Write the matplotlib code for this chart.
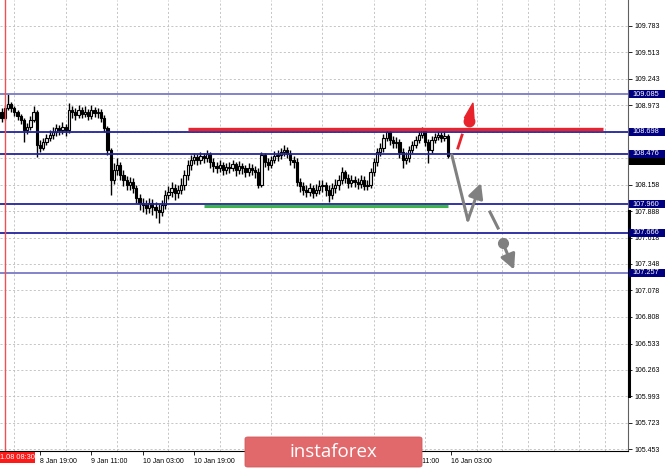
import matplotlib
matplotlib.use('Agg')
import matplotlib.pyplot as plt
import matplotlib.transforms as mtransforms
from matplotlib.patches import Rectangle, FancyBboxPatch, Polygon
import numpy as np

plt.rcParams['font.family'] = ['Liberation Sans', 'DejaVu Sans']

# H1 candles (8 Jan 08:00 -> 16 Jan 02:00)
first_open = 108.903
closes = [108.841, 108.944, 108.985, 108.944, 108.903, 108.862, 108.821, 108.718, 108.749, 108.821,
          108.903, 108.565, 108.534, 108.596, 108.637, 108.667, 108.698, 108.739, 108.718, 108.749,
          108.718, 108.923, 108.903, 108.872, 108.923, 108.882, 108.903, 108.862, 108.923, 108.892,
          108.903, 108.841, 108.739, 108.514, 108.207, 108.309, 108.360, 108.258, 108.207, 108.156,
          108.186, 108.125, 108.022, 107.971, 107.951, 107.920, 107.971, 107.930, 107.900, 107.879,
          107.951, 108.053, 108.084, 108.125, 108.074, 108.104, 108.156, 108.258, 108.360, 108.411,
          108.442, 108.411, 108.452, 108.432, 108.473, 108.391, 108.350, 108.330, 108.360, 108.309,
          108.340, 108.330, 108.370, 108.309, 108.350, 108.330, 108.289, 108.330, 108.309, 108.289,
          108.156, 108.463, 108.391, 108.360, 108.411, 108.452, 108.463, 108.493, 108.514, 108.473,
          108.411, 108.391, 108.186, 108.145, 108.104, 108.084, 108.125, 108.074, 108.104, 108.145,
          108.156, 108.104, 108.053, 108.125, 108.156, 108.207, 108.289, 108.227, 108.176, 108.207,
          108.186, 108.166, 108.207, 108.145, 108.156, 108.289, 108.391, 108.493, 108.534, 108.637,
          108.698, 108.616, 108.585, 108.596, 108.493, 108.411, 108.432, 108.514, 108.565, 108.616,
          108.667, 108.718, 108.596, 108.514, 108.616, 108.647, 108.667, 108.637, 108.657, 108.452]
highs = [108.944, 108.974, 109.087, 109.005, 108.964, 108.923, 108.882, 108.841, 108.790, 108.862,
         108.964, 108.923, 108.616, 108.637, 108.678, 108.718, 108.749, 108.780, 108.769, 108.800,
         108.780, 108.995, 108.964, 108.944, 108.974, 108.954, 108.964, 108.933, 108.974, 108.954,
         108.944, 108.933, 108.872, 108.759, 108.534, 108.381, 108.432, 108.391, 108.309, 108.248,
         108.237, 108.227, 108.156, 108.063, 108.022, 108.002, 108.022, 108.012, 107.982, 107.961,
         108.002, 108.104, 108.145, 108.186, 108.166, 108.156, 108.227, 108.309, 108.411, 108.463,
         108.483, 108.473, 108.493, 108.483, 108.514, 108.493, 108.432, 108.391, 108.411, 108.391,
         108.381, 108.391, 108.411, 108.391, 108.401, 108.381, 108.360, 108.381, 108.370, 108.350,
         108.330, 108.493, 108.483, 108.432, 108.452, 108.504, 108.514, 108.534, 108.565, 108.544,
         108.514, 108.452, 108.432, 108.227, 108.186, 108.156, 108.176, 108.156, 108.166, 108.207,
         108.207, 108.186, 108.156, 108.176, 108.217, 108.258, 108.340, 108.309, 108.268, 108.258,
         108.248, 108.227, 108.258, 108.248, 108.207, 108.330, 108.432, 108.534, 108.585, 108.678,
         108.729, 108.718, 108.657, 108.647, 108.626, 108.534, 108.493, 108.555, 108.606, 108.657,
         108.708, 108.749, 108.739, 108.626, 108.657, 108.688, 108.708, 108.698, 108.708, 108.678]
lows = [108.800, 108.821, 108.923, 108.903, 108.862, 108.821, 108.780, 108.596, 108.678, 108.718,
        108.800, 108.442, 108.493, 108.514, 108.565, 108.606, 108.626, 108.657, 108.667, 108.678,
        108.657, 108.688, 108.841, 108.821, 108.841, 108.841, 108.851, 108.821, 108.831, 108.851,
        108.841, 108.800, 108.698, 108.463, 108.053, 108.166, 108.258, 108.207, 108.145, 108.104,
        108.104, 108.074, 107.971, 107.900, 107.879, 107.859, 107.869, 107.849, 107.818, 107.767,
        107.838, 107.910, 108.012, 108.033, 108.002, 108.022, 108.063, 108.104, 108.207, 108.309,
        108.370, 108.360, 108.370, 108.381, 108.391, 108.330, 108.289, 108.278, 108.289, 108.258,
        108.268, 108.278, 108.299, 108.248, 108.268, 108.268, 108.237, 108.248, 108.258, 108.227,
        108.125, 108.135, 108.340, 108.309, 108.330, 108.381, 108.401, 108.422, 108.452, 108.432,
        108.360, 108.330, 108.145, 108.084, 108.053, 108.033, 108.043, 108.022, 108.043, 108.063,
        108.084, 108.043, 107.982, 108.012, 108.074, 108.104, 108.166, 108.176, 108.125, 108.135,
        108.135, 108.115, 108.125, 108.104, 108.104, 108.125, 108.248, 108.350, 108.452, 108.493,
        108.606, 108.565, 108.534, 108.534, 108.432, 108.330, 108.370, 108.391, 108.483, 108.534,
        108.585, 108.637, 108.555, 108.381, 108.483, 108.585, 108.616, 108.596, 108.606, 108.432]

levels = [109.085, 108.698, 108.476, 107.960, 107.666, 107.257]
level_colors = ['#7a7ac6', '#24249c', '#24249c', '#24249c', '#24249c', '#7a7ac6']

price_ticks = [109.783, 109.513, 109.243, 108.973, 108.703, 108.433, 108.158, 107.888, 107.618,
               107.348, 107.078, 106.808, 106.533, 106.263, 105.993, 105.723, 105.453]
# these two grid labels sit under the level boxes in the reference
hidden_ticks = [108.703, 108.433]
time_tick_bars = [12, 28, 44, 60, 76, 92, 108, 124, 140]
# labels at 76/92/108 are covered by the watermark in the reference
time_labels = ['8 Jan 19:00', '9 Jan 11:00', '10 Jan 03:00', '10 Jan 19:00', '',
               '', '', '15 Jan 11:00', '16 Jan 03:00']

# drawn objects: resistance / support / vertical marker
resist_price, resist_from, resist_to = 108.729, 58.1, 187.4
support_price, support_from, support_to = 107.941, 63.1, 139.0
vline_bar, vline_label = 1.1, '1.08 08:30'

# forecast arrows (bar, price)
down_path_x = [140.3, 145.3, 149.4]
down_path_y = [108.463, 107.797, 108.176]
dash_x = [152.2, 154.7]
dash_y = [107.879, 107.715]
dot_x, dot_y = 156.2, 107.562
dot_arrow_x, dot_arrow_y = 159.7, 107.289
up_tick_x = [142.2, 143.5]
up_tick_y = [108.534, 108.667]
up_head_x = [144.2, 146.9, 147.2]
up_head_y = [108.841, 108.995, 108.841]
up_blob_x, up_blob_y = 145.7, 108.815

W, H = 665, 468
fig = plt.figure(figsize=(W / 100, H / 100), dpi=100)
ax = fig.add_axes([0, 17 / H, 628 / W, 451 / H])
ax.set_xlim(-0.47, 195.2)
ax.set_ylim(105.433, 110.049)

# grid
ax.set_xticks(np.arange(4, 196, 8), minor=True)
ax.set_yticks(price_ticks)
ax.set_yticklabels(['' if p in hidden_ticks else '%.3f' % p for p in price_ticks])
ax.grid(True, which='minor', axis='x', color='#bdbdbd', lw=0.6, ls=(0, (2.5, 2.5)))
ax.grid(True, which='major', axis='y', color='#bdbdbd', lw=0.6, ls=(0, (2.5, 2.5)))

# candles
opens = [first_open] + closes[:-1]
idx = np.arange(len(closes))
o = np.array(opens)
c = np.array(closes)
ax.vlines(idx, lows, highs, color='black', lw=1.0, zorder=3)
bull = c >= o
body_lo = np.minimum(o, c)
body_h = np.maximum(np.abs(c - o), 0.006)
ax.bar(idx[bull], body_h[bull], bottom=body_lo[bull], width=0.7, color='#e8e8e8',
       edgecolor='black', lw=0.8, zorder=4)
ax.bar(idx[~bull], body_h[~bull], bottom=body_lo[~bull], width=0.7, color='black',
       edgecolor='black', lw=0.8, zorder=4)

# levels
for lv, col in zip(levels, level_colors):
    ax.axhline(lv, color=col, lw=1.3, zorder=5)
ax.plot([resist_from, resist_to], [resist_price] * 2, color='#e8232b', lw=2.4,
        solid_capstyle='butt', zorder=6)
ax.plot([support_from, support_to], [support_price] * 2, color='#3cb44b', lw=2.2,
        solid_capstyle='butt', zorder=6)
ax.axvline(vline_bar, color='#f05050', lw=1.0, zorder=5)

# forecast
grey = '#808080'
ax.plot(down_path_x[:2], down_path_y[:2], color=grey, lw=2.2, zorder=7, solid_capstyle='round')
ax.annotate('', xy=(down_path_x[2], down_path_y[2]), xytext=(down_path_x[1], down_path_y[1]),
            arrowprops=dict(arrowstyle='-|>,head_length=0.9,head_width=0.45', color=grey, lw=2.2,
                            shrinkA=0, shrinkB=0), zorder=7)
ax.plot(dash_x, dash_y, color=grey, lw=2.2, zorder=7)
ax.plot([dot_x], [dot_y], 'o', color=grey, ms=7, zorder=7)
ax.annotate('', xy=(dot_arrow_x, dot_arrow_y), xytext=(dot_x, dot_y),
            arrowprops=dict(arrowstyle='-|>,head_length=0.9,head_width=0.45', color=grey, lw=2.2,
                            shrinkA=0, shrinkB=0), zorder=7)
red = '#e8232b'
ax.plot(up_tick_x, up_tick_y, color=red, lw=2.0, zorder=7)
ax.add_patch(Polygon(list(zip(up_head_x, up_head_y)), closed=True, fc=red, ec=red, zorder=7))
ax.plot([up_blob_x], [up_blob_y], 'o', color=red, ms=7.5, zorder=7)

# axes styling
for s in ['top', 'left']:
    ax.spines[s].set_visible(False)
ax.spines['right'].set_color('#606060')
ax.spines['bottom'].set_color('black')
ax.spines['right'].set_linewidth(0.8)
ax.spines['bottom'].set_linewidth(0.8)
ax.yaxis.tick_right()
ax.tick_params(axis='y', which='major', length=3, width=0.6, labelsize=5, pad=2, colors='black')
ax.tick_params(axis='x', which='minor', length=0)
ax.set_xticks(time_tick_bars)
ax.set_xticklabels(time_labels)
ax.tick_params(axis='x', which='major', length=3, width=0.6, labelsize=5, pad=2)
for lab in ax.get_xticklabels():
    lab.set_horizontalalignment('left')

# right-side price boxes
trans = mtransforms.blended_transform_factory(ax.transAxes, ax.transData)
box_h = 0.082
ax.plot([1.002, 1.002], [107.888, 105.993], transform=trans, color='black', lw=2.2,
        clip_on=False, zorder=9)
last = closes[-1]
ax.add_patch(Rectangle((1.0016, last - 0.05 - box_h / 2), 0.057, box_h, transform=trans,
                       fc='black', ec='none', clip_on=False, zorder=10))
for lv in levels:
    ax.add_patch(Rectangle((1.0016, lv - box_h / 2), 0.057, box_h, transform=trans,
                           fc='#000080', ec='none', clip_on=False, zorder=12))
    ax.text(1.0075, lv, '%.3f' % lv, transform=trans, color='white', fontsize=5.3,
            va='center', ha='left', zorder=13, clip_on=False)

# date label of the vertical line
fig.add_artist(Rectangle((0, 5 / H), 35 / W, 11 / H, transform=fig.transFigure,
                         fc='#ff1a1a', ec='none'))
fig.text(0.5 / W, 10.5 / H, vline_label, color='white', fontsize=5.3, va='center', ha='left')

# watermark
fig.add_artist(FancyBboxPatch((245 / W, 1 / H), 177 / W, 30 / H, transform=fig.transFigure,
                              boxstyle='round,pad=0,rounding_size=0.004',
                              fc='#e2696b', ec='#d35a5c', lw=0.6))
fig.text(333 / W, 16 / H, 'instaforex', color='white', fontsize=13.5,
         family=['Open Sans', 'DejaVu Sans'], va='center', ha='center')

fig.savefig('out.png', dpi=100, facecolor='white')
